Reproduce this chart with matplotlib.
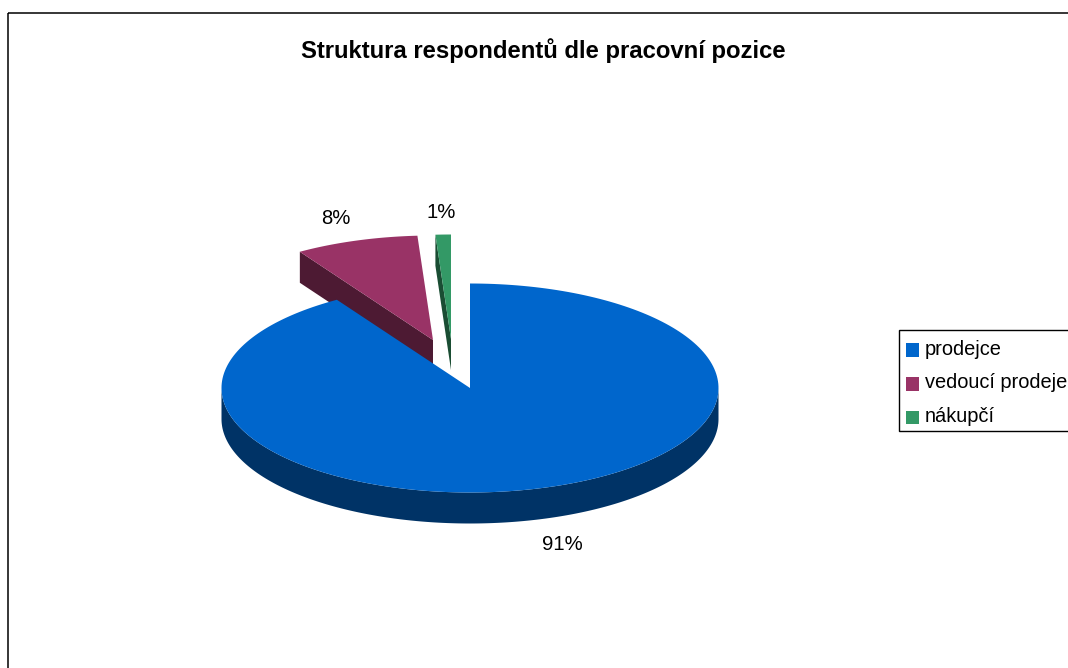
"""
Pseudo-3D pie of respondents by job position, drawn as flat polygons
"""

import numpy as np
import matplotlib
matplotlib.use("Agg")
import matplotlib.pyplot as plt
import matplotlib.patches as mpatches

plt.rcParams["font.family"] = ["Liberation Sans", "DejaVu Sans"]

# ── Data ──────────────────────────────────────────────────────────────────────
positions = ["prodejce", "vedoucí prodeje", "nákupčí"]
shares = [91, 8, 1]
title = "Struktura respondentů dle pracovní pozice"

TOP_COLORS = ["#0066cc", "#993366", "#339966"]
SIDE_COLORS = ["#003366", "#4d1a33", "#1a4d33"]

# Pie geometry in figure pixels (y grows downwards)
RX, RY, DEPTH = 248.5, 104.5, 31
APEX = [(470, 388), (433, 340), (451, 339)]
LABEL_POS = [(562, 544.5), (336, 218), (441, 212)]


def rim(apex, a0, a1, n=240):
    # angles are clockwise from 12 o'clock, flattened onto the ellipse
    t = np.radians(np.linspace(a0, a1, n))
    return np.column_stack([apex[0] + RX * np.sin(t), apex[1] - RY * np.cos(t)])


fig = plt.figure(figsize=(10.68, 6.68), dpi=100, facecolor="white")
ax = fig.add_axes([0, 0, 1, 1])
ax.set_xlim(0, 1068)
ax.set_ylim(668, 0)
ax.axis("off")

# Outer chart frame, runs off the right and bottom edges
ax.add_patch(mpatches.Rectangle((8.0, 13.0), 1100, 700, fill=False,
                                edgecolor="black", linewidth=1.1))

# Slice angles
edges = np.cumsum([0] + shares) / sum(shares) * 360
slices = list(zip(edges[:-1], edges[1:]))

# ── Small slices first, the big one sits in front of their sides ──────────────
for i in [1, 2]:
    a0, a1 = slices[i]
    apex = APEX[i]
    outer = rim(apex, a0, a0, 1)[0]
    side = [outer, apex, (apex[0], apex[1] + DEPTH), (outer[0], outer[1] + DEPTH)]
    ax.add_patch(mpatches.Polygon(side, closed=True, facecolor=SIDE_COLORS[i],
                                  edgecolor="none", zorder=2))
    top = np.vstack([[apex], rim(apex, a0, a1)])
    ax.add_patch(mpatches.Polygon(top, closed=True, facecolor=TOP_COLORS[i],
                                  edgecolor="none", zorder=3))

# ── Big slice: front wall, then top ───────────────────────────────────────────
a0, a1 = slices[0]
front = rim(APEX[0], 90, 270)
wall = np.vstack([front, front[::-1] + [0, DEPTH]])
ax.add_patch(mpatches.Polygon(wall, closed=True, facecolor=SIDE_COLORS[0],
                              edgecolor="none", zorder=4))
top = np.vstack([[APEX[0]], rim(APEX[0], a0, a1)])
ax.add_patch(mpatches.Polygon(top, closed=True, facecolor=TOP_COLORS[0],
                              edgecolor="none", zorder=5))

# ── Value labels ──────────────────────────────────────────────────────────────
for val, (lx, ly) in zip(shares, LABEL_POS):
    ax.text(lx, ly, f"{val}%", ha="center", va="center", fontsize=14.6,
            color="black")

ax.text(543.5, 50.5, title, ha="center", va="center", fontsize=17.17,
        fontweight="bold", color="black")

# ── Legend, cut off by the right edge ─────────────────────────────────────────
ax.add_patch(mpatches.Rectangle((899, 330), 200, 101, facecolor="white",
                                edgecolor="black", linewidth=1.0, zorder=6))
handles = [mpatches.Patch(facecolor=c, edgecolor="none", label=p)
           for c, p in zip(TOP_COLORS, positions)]
leg = ax.legend(handles=handles, loc="upper left", bbox_to_anchor=(896, 330),
                bbox_transform=ax.transData, fontsize=14.4, frameon=False,
                handlelength=0.65, handleheight=0.65, handletextpad=0.3,
                labelspacing=0.74, borderpad=0.48, borderaxespad=0)
leg.set_zorder(7)
# swatches sit a little below the text centre
for h in leg.legend_handles:
    h.set_y(h.get_y() - 1.8)

fig.savefig("out.png", dpi=100, facecolor="white")
